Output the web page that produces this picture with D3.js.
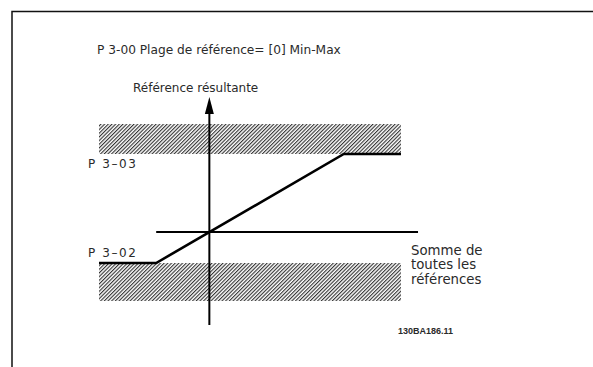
<!DOCTYPE html>
<html><head><meta charset="utf-8">
<script src="https://cdn.jsdelivr.net/npm/d3@7/dist/d3.min.js"></script>
<style>
html,body{margin:0;padding:0;background:#fff;}
svg{display:block;}
text{font-family:"DejaVu Sans",Verdana,sans-serif;fill:#2a2a2a;}
</style></head>
<body>
<script>
// ---- data ----
const title = "P 3-00 Plage de référence= [0] Min-Max";
const yAxisLabel = "Référence résultante";
const xAxisLabel = ["Somme de", "toutes les", "références"];
const limitLabels = ["P 3\u201303", "P 3\u201302"];
const refMax = 78;          // P 3-03
const refMin = -31;         // P 3-02
const curveX = [-110, -53, 134, 191];
const curveY = [-31, -31, 78, 78];
const bandUpper = [78, 108];
const bandLower = [-69, -31];
const bandX = [-110, 191];
const axisXExtent = [-53, 208];
const axisYExtent = [-93, 135];
const code = "130BA186.11";

const W = 593, H = 367;
const svg = d3.select("body").append("svg").attr("width", W).attr("height", H);

const x = d3.scaleLinear().domain([-110, 200]).range([99, 410]);
const y = d3.scaleLinear().domain([-100, 140]).range([332, 92]);

// frame
svg.append("path").attr("d", `M12,${H} L12,11.5 L${W},11.5`)
  .attr("fill", "none").attr("stroke", "#111").attr("stroke-width", 1.5);

// hatch pattern
const defs = svg.append("defs");
const pat = defs.append("pattern").attr("id", "hatch").attr("patternUnits", "userSpaceOnUse")
  .attr("width", 2.6).attr("height", 2.6).attr("patternTransform", "rotate(45)");
pat.append("line").attr("x1", 0.6).attr("y1", 0).attr("x2", 0.6).attr("y2", 2.6)
  .attr("stroke", "#1a1a1a").attr("stroke-width", 1.0);

[bandUpper, bandLower].forEach(b => {
  svg.append("rect")
    .attr("x", x(bandX[0])).attr("width", x(bandX[1]) - x(bandX[0]))
    .attr("y", y(b[1])).attr("height", y(b[0]) - y(b[1]))
    .attr("fill", "url(#hatch)");
});

// axes
svg.append("line").attr("x1", x(axisXExtent[0])).attr("x2", x(axisXExtent[1]))
  .attr("y1", y(0)).attr("y2", y(0)).attr("stroke", "#000").attr("stroke-width", 2);
svg.append("line").attr("x1", x(0)).attr("x2", x(0))
  .attr("y1", y(axisYExtent[0])).attr("y2", y(axisYExtent[1]) + 10).attr("stroke", "#000").attr("stroke-width", 2);
// arrow head
const ax = x(0), ay = y(axisYExtent[1]);
svg.append("path").attr("d", `M${ax},${ay} L${ax - 4.5},${ay + 17} L${ax + 4.5},${ay + 17} Z`).attr("fill", "#000");

// curve
const line = d3.line().x((d, i) => x(curveX[i])).y(d => y(d));
svg.append("path").datum(curveY).attr("d", line)
  .attr("fill", "none").attr("stroke", "#000").attr("stroke-width", 2.6).attr("stroke-linejoin", "miter");

// texts
svg.append("text").attr("x", 97).attr("y", 54).attr("font-size", 12.2).text(title);
svg.append("text").attr("x", 133).attr("y", 92).attr("font-size", 12).text(yAxisLabel);
xAxisLabel.forEach((t, i) => {
  svg.append("text").attr("x", 411).attr("y", 254.5 + i * 14.5).attr("font-size", 13.3).text(t);
});
svg.append("text").attr("x", 88).attr("y", y(refMax) + 13.5).attr("font-size", 12)
  .attr("letter-spacing", 1.6).text(limitLabels[0]);
svg.append("text").attr("x", 88).attr("y", y(refMin) - 6).attr("font-size", 12)
  .attr("letter-spacing", 1.6).text(limitLabels[1]);
svg.append("text").attr("x", 398).attr("y", 334).attr("font-size", 9)
  .style("font-family", "'Liberation Sans Narrow','Liberation Sans',Arial,sans-serif").attr("font-weight", "bold")
  .text(code);
</script>
</body></html>
